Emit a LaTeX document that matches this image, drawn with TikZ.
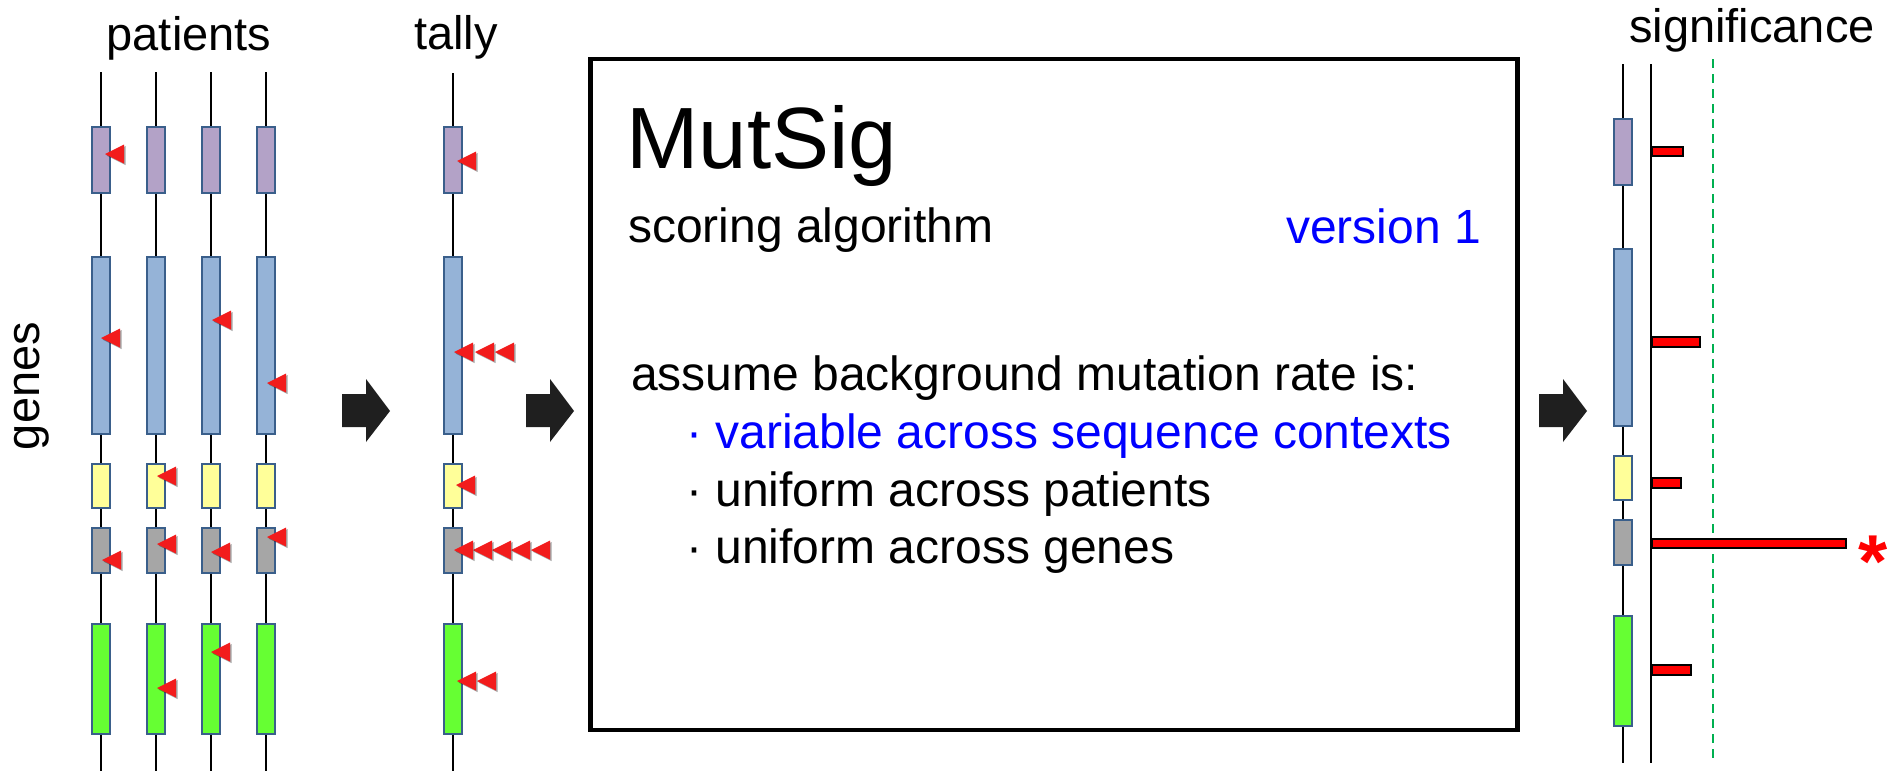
\documentclass[tikz,border=0pt]{standalone}
\usepackage{fontspec}
\setmainfont{Liberation Sans}
\definecolor{cpurple}{HTML}{B3A2C7}
\definecolor{cblue}{HTML}{95B3D7}
\definecolor{cyellow}{HTML}{FFFF99}
\definecolor{cgray}{HTML}{A6A6A6}
\definecolor{cgreen}{HTML}{66FF33}
\definecolor{gedge}{HTML}{3A5F8B}
\definecolor{mutred}{HTML}{F21C1C}
\definecolor{arrowc}{HTML}{1F1F1F}
\definecolor{sigline}{HTML}{00B050}
\definecolor{txtblue}{HTML}{0000FF}
\tikzset{
  gbox/.style={rectangle, draw=gedge, line width=1.5pt, minimum width=18pt, inner sep=0pt},
  trk/.style={line width=2pt, black},
  lbl/.style={inner sep=0pt, font=\fontsize{47}{56}\selectfont},
  boxtxt/.style={inner sep=0pt, font=\fontsize{48}{57}\selectfont},
  sigbar/.style={draw=black, fill=red, line width=1.5pt},
  blockarrow/.style={fill=arrowc},
  mutfill/.style={fill=mutred},
  mutshade/.style={fill=black, opacity=0.35},
}
\newcommand\genetrack[5]{%
  \coordinate (#1top) at (#2,#4);
  \coordinate (#1bot) at (#2,#5);
  \node[gbox,fill=cpurple,minimum height=66pt] (#1a) at (#2,160+#3) {};
  \node[gbox,fill=cblue,minimum height=177pt] (#1b) at (#2,345.5+#3) {};
  \node[gbox,fill=cyellow,minimum height=44pt] (#1c) at (#2,486+#3) {};
  \node[gbox,fill=cgray,minimum height=45pt] (#1d) at (#2,550.5+#3) {};
  \node[gbox,fill=cgreen,minimum height=110pt] (#1e) at (#2,679+#3) {};
  \draw[trk] (#1top) -- (#1a.north) (#1a.south) -- (#1b.north)
    (#1b.south) -- (#1c.north) (#1c.south) -- (#1d.north)
    (#1d.south) -- (#1e.north) (#1e.south) -- (#1bot);
}
\newcommand\mutmark[2]{%
  \fill[mutshade] ({#1+1.5},{#2+1.5}) -- ++(19,-9.5) -- ++(0,19) -- cycle;
  \fill[mutfill] (#1,#2) -- ++(19,-9.5) -- ++(0,19) -- cycle;
}
\newcommand\blkarrow[1]{%
  \fill[blockarrow] (#1,394) -- ({#1+24},394) -- ({#1+24},379) -- ({#1+48},411)
    -- ({#1+24},442) -- ({#1+24},427) -- (#1,427) -- cycle;
}
\begin{document}
\begin{tikzpicture}[x=1pt,y=-1pt]
\useasboundingbox (0,0) rectangle (1893,771);

% titles
\node[lbl,anchor=base] (tpat) at (189,50) {patients};
\node[lbl,anchor=base] (ttal) at (456,49) {tally};
\node[lbl,anchor=base west] (tsig) at (1629,42) {significance};
\node[lbl,anchor=base,rotate=90] (tgen) at (39,386) {genes};

% patient tracks
\genetrack{pA}{101}{0}{72}{771}
\genetrack{pB}{156}{0}{72}{771}
\genetrack{pC}{211}{0}{72}{771}
\genetrack{pD}{266}{0}{72}{771}

\mutmark{105}{154}
\mutmark{101}{338}
\mutmark{102}{560}
\mutmark{157}{476}
\mutmark{157}{544}
\mutmark{157}{688}
\mutmark{212}{320}
\mutmark{211}{552}
\mutmark{211}{652}
\mutmark{267}{383}
\mutmark{267}{537}

% tally track
\genetrack{tA}{453}{0}{73}{771}
\mutmark{457}{161}
\mutmark{495}{352}\mutmark{475}{352}\mutmark{454}{352}
\mutmark{456}{485}
\mutmark{531}{550}\mutmark{511}{550}\mutmark{492}{550}\mutmark{473}{550}\mutmark{454}{550}
\mutmark{477}{681}\mutmark{457}{681}

% block arrows
\blkarrow{342}
\blkarrow{526}
\blkarrow{1539}

% MutSig box
\node[draw=black, line width=4.5pt, minimum width=927pt, minimum height=671pt, inner sep=0pt] (box) at (1054,394.5) {};
\node[inner sep=0pt, anchor=base west, font=\fontsize{87}{100}\selectfont] (ttl) at (626,168) {MutSig};
\node[boxtxt,anchor=base west] (sub) at (628,242) {scoring algorithm};
\node[boxtxt,anchor=base east,text=txtblue] (ver) at (1481,243) {version 1};
\node[boxtxt,anchor=base west] (l0) at (631,390) {assume background mutation rate is:};
\node[boxtxt,anchor=base west,text=txtblue] (l1) at (686,448) {· variable across sequence contexts};
\node[boxtxt,anchor=base west] (l2) at (686,506) {· uniform across patients};
\node[boxtxt,anchor=base west] (l3) at (686,563) {· uniform across genes};

% significance panel
\genetrack{sA}{1623}{-8}{64}{763}
\coordinate (axtop) at (1651,64);
\coordinate (axbot) at (1651,763);
\draw[trk] (axtop) -- (axbot);
\coordinate (thtop) at (1713,59);
\coordinate (thbot) at (1713,760);
\draw[sigline, line width=2pt, dash pattern=on 9pt off 6pt] (thtop) -- (thbot);
\draw[sigbar] (1652,147) rectangle (1683,156);
\draw[sigbar] (1652,337) rectangle (1700,347);
\draw[sigbar] (1652,478) rectangle (1681,488);
\draw[sigbar] (1652,539) rectangle (1846,548);
\draw[sigbar] (1652,665) rectangle (1691,675);
\node[inner sep=0pt, anchor=base, text=red, font=\bfseries\fontsize{75}{80}\selectfont] (star) at (1873,587) {*};
\end{tikzpicture}
\end{document}
